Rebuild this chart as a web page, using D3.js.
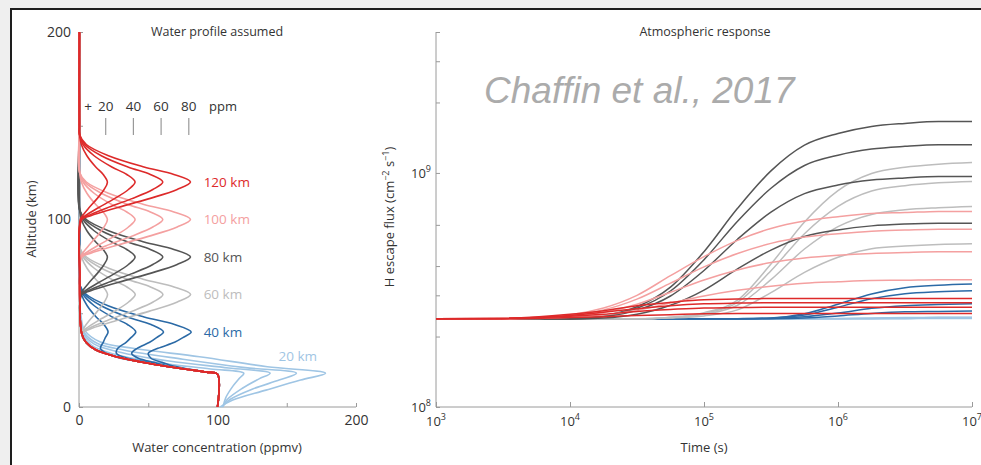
<!DOCTYPE html>
<html><head><meta charset="utf-8">
<script src="https://cdn.jsdelivr.net/npm/d3@7"></script>
<style>
html,body{margin:0;padding:0;background:#efefef;overflow:hidden;}
svg{display:block;}
text{font-family:"Open Sans","Noto Sans",sans-serif;}
</style></head><body>
<svg id="chart" width="981" height="465"></svg>
<script>
// ---------------- DATA ----------------
// Left panel: water profiles [ppmv, km]
const baseProfile = [[100,0],[100,17.5],[92,18.6],[75,20.4],[51,23.2],[27,26.8],[12,30.5],[5,34.5],[2,39],[1,45],[0.6,55],[0.5,70],[0.4,100],[0.3,150],[0.3,200]];

const peakLabels = ["20 km","40 km","60 km","80 km","100 km","120 km"];
const scaleBarPpm = [20,40,60,80];

// 20 km perturbations (point lists, ppmv, km)
const profiles20 = [
  [[104,0],[106,5],[111,11],[116,15.5],[119,18],[95,20.3],[55,23.8],[23,28.6],[9,33],[2.5,39],[1,45],[0.6,55]],
  [[103.5,0],[107,4],[118,10],[130,15],[138,18],[108,20.8],[65,24.5],[28,29.5],[11,33.5],[3,39.5],[1.2,46],[0.6,55]],
  [[103,0],[109,4],[125,9.5],[145,14.5],[157,18],[120,21],[75,25.5],[33,30.3],[13,34],[3.5,40],[1.3,47],[0.6,55]],
  [[102,0],[111,3.7],[135,9],[160,14.4],[178,18],[136,21.5],[87,26.8],[39,31.3],[15,34.8],[4,41],[1.5,48],[0.6,55]]
];
// 40 km perturbations
const alt40 = [20.4,21.8,23.8,26,28.6,31.3,34.5,37,40,44,48,54,60,65];
const ppm40 = [
  [75,62,47,30,20,15.5,17.5,19,21,18,12.4,5.9,1.8,0.6],
  [76,63,50,35,27,28,34,37.5,41,35,24,11,3,0.6],
  [77,65,54,43,38,42,51,56,61,52,35,16,4.2,0.6],
  [78,68,60,52,50,57,69,75,81,69,47,21,5.4,0.6]
];
// 60 km perturbations
const alt60 = [40,42,46,51,56,60,64,68,74,80,85];
const ppm60 = [
  [2.2,3.4,7.3,13.2,18.3,20.6,17.6,12.2,5.8,1.8,0.5],
  [2.6,5.4,13.7,25.6,35.8,40.6,34.6,23.8,11,3,0.5],
  [3,7.4,20.1,38,53.5,60.6,51.6,35.4,16.2,4.2,0.5],
  [3.4,9.4,26.5,50.4,71,80.6,68.6,47,21.4,5.4,0.5]
];
// 80 km perturbations
const alt80 = [60,62,66,71,76,80,84,88,94,100,105];
const ppm80 = [
  [0.9,2.5,6.9,12.9,18.1,20.5,17.5,12.1,5.7,1.7,0.5],
  [1.3,4.5,13.3,25.3,35.7,40.5,34.5,23.7,10.9,2.9,0.5],
  [1.7,6.5,19.7,37.7,53.3,60.5,51.5,35.3,16.1,4.1,0.5],
  [2.1,8.5,26.1,50.1,70.9,80.5,68.5,46.9,21.3,5.3,0.5]
];
// 100 km perturbations
const alt100 = [80,82,86,91,96,100,104,108,114,120,125];
const ppm100 = [
  [0.9,2.5,6.9,12.9,18.1,20.5,17.5,12.1,5.7,1.7,0.5],
  [1.3,4.5,13.3,25.3,35.7,40.5,34.5,23.7,10.9,2.9,0.5],
  [1.7,6.5,19.7,37.7,53.3,60.5,51.5,35.3,16.1,4.1,0.5],
  [2.1,8.5,26.1,50.1,70.9,80.5,68.5,46.9,21.3,5.3,0.5]
];
// 120 km perturbations
const alt120 = [100,102,106,111,116,120,124,128,134,140,145];
const ppm120 = [
  [0.9,2.5,6.9,12.9,18.1,20.5,17.5,12.1,5.7,1.7,0.5],
  [1.3,4.5,13.3,25.3,35.7,40.5,34.5,23.7,10.9,2.9,0.5],
  [1.7,6.5,19.7,37.7,53.3,60.5,51.5,35.3,16.1,4.1,0.5],
  [2.1,8.5,26.1,50.1,70.9,80.5,68.5,46.9,21.3,5.3,0.5]
];

// Right panel: H escape flux (units of 1e8 cm^-2 s^-1) vs time (s)
const times = [1e3,3.16e3,1e4,1.78e4,3.16e4,5.62e4,1e5,1.78e5,3.16e5,5.62e5,1e6,1.78e6,3.16e6,5.62e6,1e7];
const flux20 = [
  [2.38,2.38,2.38,2.38,2.38,2.38,2.38,2.38,2.38,2.38,2.38,2.38,2.385,2.39,2.39],
  [2.38,2.38,2.38,2.38,2.38,2.38,2.38,2.38,2.38,2.38,2.38,2.385,2.39,2.40,2.40],
  [2.38,2.38,2.38,2.38,2.38,2.38,2.38,2.38,2.38,2.38,2.385,2.39,2.40,2.41,2.41],
  [2.38,2.38,2.38,2.38,2.38,2.38,2.38,2.38,2.38,2.38,2.39,2.40,2.41,2.42,2.42]
];
const flux40 = [
  [2.38,2.38,2.38,2.38,2.38,2.38,2.38,2.381,2.384,2.40,2.45,2.51,2.55,2.56,2.57],
  [2.38,2.38,2.38,2.38,2.38,2.38,2.38,2.382,2.39,2.43,2.52,2.64,2.71,2.74,2.76],
  [2.38,2.38,2.38,2.38,2.38,2.38,2.38,2.384,2.395,2.47,2.67,2.90,3.05,3.11,3.14],
  [2.38,2.38,2.38,2.38,2.38,2.38,2.38,2.385,2.40,2.50,2.75,3.04,3.23,3.31,3.35]
];
const flux60 = [
  [2.38,2.38,2.38,2.38,2.38,2.40,2.45,2.60,3.08,3.76,4.36,4.74,4.87,4.95,4.98],
  [2.38,2.38,2.38,2.38,2.38,2.41,2.49,2.72,3.50,4.73,5.90,6.65,6.96,7.10,7.19],
  [2.38,2.38,2.38,2.38,2.38,2.41,2.51,2.80,3.82,5.50,7.20,8.37,8.82,9.07,9.20],
  [2.38,2.38,2.38,2.38,2.38,2.42,2.53,2.86,4.08,6.17,8.41,9.94,10.58,10.90,11.08]
];
const flux80 = [
  [2.38,2.38,2.38,2.40,2.49,2.72,3.16,3.89,4.68,5.35,5.71,5.94,6.05,6.10,6.10],
  [2.38,2.38,2.38,2.43,2.59,2.98,3.83,5.21,6.80,8.16,8.88,9.32,9.52,9.65,9.65],
  [2.38,2.38,2.38,2.44,2.64,3.13,4.26,6.22,8.60,10.76,11.90,12.64,12.99,13.20,13.20],
  [2.38,2.38,2.38,2.45,2.68,3.25,4.61,7.06,10.20,13.14,14.74,15.80,16.28,16.58,16.58]
];
const flux100 = [
  [2.38,2.38,2.42,2.47,2.59,2.78,2.98,3.15,3.28,3.38,3.43,3.47,3.48,3.50,3.50],
  [2.38,2.38,2.44,2.54,2.75,3.09,3.49,3.85,4.14,4.33,4.45,4.53,4.57,4.60,4.60],
  [2.38,2.38,2.47,2.60,2.89,3.38,3.97,4.53,5.00,5.32,5.50,5.64,5.70,5.75,5.75],
  [2.38,2.38,2.48,2.65,3.00,3.64,4.39,5.15,5.79,6.23,6.50,6.71,6.77,6.85,6.85]
];
const flux120 = [
  [2.38,2.38,2.41,2.43,2.46,2.48,2.50,2.51,2.51,2.51,2.51,2.51,2.51,2.51,2.51],
  [2.38,2.39,2.44,2.49,2.56,2.61,2.65,2.66,2.67,2.67,2.67,2.67,2.67,2.67,2.67],
  [2.38,2.39,2.46,2.54,2.63,2.71,2.76,2.78,2.79,2.79,2.79,2.79,2.79,2.79,2.79],
  [2.38,2.39,2.49,2.58,2.71,2.80,2.87,2.89,2.91,2.91,2.91,2.91,2.91,2.91,2.91]
];
const timeTicks = [1e3,1e4,1e5,1e6,1e7];
const fluxTicks = [1e8,2e8,3e8,4e8,6e8,1e9,2e9,3e9,4e9];

const groupColors = ["#9fc5e4","#2b6aa6","#bdbdbd","#555555","#f4a0a0","#dd2a2a"];

// ---------------- DRAW ----------------
const svg = d3.select("#chart");
svg.append("rect").attr("x",11).attr("y",9).attr("width",1000).attr("height",500)
  .attr("fill","#fff").attr("stroke","#1e1e1e").attr("stroke-width",2);

const axisCol = "#9a9a9a", txtCol = "#333";

// ===== Left panel =====
const xC = d3.scaleLinear().domain([0,200]).range([79,356]);
const yA = d3.scaleLinear().domain([0,200]).range([407,32]);

const gL = svg.append("g");
const axL = gL.append("g").attr("transform","translate(79,0)")
  .call(d3.axisLeft(yA).tickValues([0,50,100,150,200]).tickSize(-4).tickPadding(8)
    .tickFormat(d => (d % 100 === 0 ? d : "")));
const axB = gL.append("g").attr("transform","translate(0,407)")
  .call(d3.axisBottom(xC).tickValues([0,50,100,150,200]).tickSize(-4).tickPadding(8)
    .tickFormat(d => (d % 100 === 0 ? d : "")));
[axL, axB].forEach(a => {
  a.select(".domain").remove();
  a.selectAll(".tick line").attr("stroke",axisCol);
  a.selectAll("text").attr("fill",txtCol).style("font-size","14px");
});
gL.append("line").attr("x1",xC(0)).attr("x2",xC(0)).attr("y1",yA(0)).attr("y2",yA(200)).attr("stroke",axisCol);
gL.append("line").attr("x1",xC(0)).attr("x2",xC(200)).attr("y1",yA(0)).attr("y2",yA(0)).attr("stroke",axisCol);

const lineL = d3.line().x(d => xC(d[0])).y(d => yA(d[1])).curve(d3.curveCatmullRom.alpha(0.5));
function fullProfile(bump) {
  const lo = bump[0][1], hi = bump[bump.length-1][1];
  return baseProfile.filter(p => p[1] < lo).concat(bump, baseProfile.filter(p => p[1] > hi));
}
const zipAlt = (alts, vals) => vals.map((v,i) => [v, alts[i]]);
const leftGroups = [
  profiles20,
  ppm40.map(v => zipAlt(alt40, v)),
  ppm60.map(v => zipAlt(alt60, v)),
  ppm80.map(v => zipAlt(alt80, v)),
  ppm100.map(v => zipAlt(alt100, v)),
  ppm120.map(v => zipAlt(alt120, v))
];
leftGroups.forEach((grp, gi) => {
  grp.forEach(b => {
    gL.append("path").attr("d", lineL(fullProfile(b)))
      .attr("fill","none").attr("stroke",groupColors[gi]).attr("stroke-width",1.6)
      .attr("stroke-linejoin","round");
  });
});

// peak labels
const labelPos = [[144,27],[90,40],[90,60],[90,80],[90,100],[90,120]];
peakLabels.forEach((t,i) => {
  gL.append("text").attr("x", xC(labelPos[i][0])).attr("y", yA(labelPos[i][1])).attr("dy","0.35em")
    .attr("fill", groupColors[i]).style("font-size","13.5px").text(t);
});

// scale bar
scaleBarPpm.forEach(p => {
  gL.append("line").attr("x1",xC(p)-1).attr("x2",xC(p)-1).attr("y1",118).attr("y2",135)
    .attr("stroke","#999").attr("stroke-width",1.2);
  gL.append("text").attr("x",xC(p)-1).attr("y",106).attr("dy","0.35em").attr("text-anchor","middle")
    .attr("fill",txtCol).style("font-size","13.5px").text(p);
});
gL.append("text").attr("x",88).attr("y",106).attr("dy","0.35em").attr("text-anchor","middle")
  .attr("fill",txtCol).style("font-size","13.5px").text("+");
gL.append("text").attr("x",209).attr("y",106).attr("dy","0.35em")
  .attr("fill",txtCol).style("font-size","13px").text("ppm");

gL.append("text").attr("x",217).attr("y",32).attr("dy","0.35em").attr("text-anchor","middle")
  .attr("fill",txtCol).style("font-size","12.5px").text("Water profile assumed");
gL.append("text").attr("x",217).attr("y",447).attr("dy","0.35em").attr("text-anchor","middle")
  .attr("fill",txtCol).style("font-size","13px").text("Water concentration (ppmv)");
gL.append("text").attr("transform","translate(31,219) rotate(-90)").attr("dy","0.35em").attr("text-anchor","middle")
  .attr("fill",txtCol).style("font-size","13px").text("Altitude (km)");

// ===== Right panel =====
const xT = d3.scaleLog().domain([1e3,1e7]).range([436,972]);
const yF = d3.scaleLog().domain([1e8,4e9]).range([407,32]);
const gR = svg.append("g");

const axRL = gR.append("g").attr("transform","translate(436,0)")
  .call(d3.axisLeft(yF).tickValues(fluxTicks).tickSize(-4).tickFormat(""));
const axRB = gR.append("g").attr("transform","translate(0,407)")
  .call(d3.axisBottom(xT).tickValues(timeTicks).tickSize(-5).tickFormat(""));
[axRL, axRB].forEach(a => { a.select(".domain").remove(); a.selectAll(".tick line").attr("stroke",axisCol); });
gR.append("line").attr("x1",436).attr("x2",436).attr("y1",yF(1e8)).attr("y2",yF(4e9)).attr("stroke",axisCol);
gR.append("line").attr("x1",xT(1e3)).attr("x2",xT(1e7)).attr("y1",407).attr("y2",407).attr("stroke",axisCol);

function powLabel(g, x, y, exp, anchor) {
  const t = g.append("text").attr("x",x).attr("y",y).attr("text-anchor",anchor)
    .attr("fill",txtCol).style("font-size","13px");
  t.append("tspan").text("10");
  t.append("tspan").attr("dy","-6").style("font-size","9px").text(exp);
  return t;
}
timeTicks.forEach(t => powLabel(gR, xT(t), 426, Math.round(Math.log10(t)), "middle"));
[1e8,1e9].forEach(f => powLabel(gR, 431, yF(f)+5, Math.round(Math.log10(f)), "end"));

const lineR = d3.line().x((d,i) => xT(times[i])).y(d => yF(d*1e8)).curve(d3.curveMonotoneX);
[flux20, flux40, flux60, flux80, flux100, flux120].forEach((grp, gi) => {
  grp.forEach(s => {
    gR.append("path").attr("d", lineR(s)).attr("fill","none")
      .attr("stroke", groupColors[gi]).attr("stroke-width",1.5);
  });
});

gR.append("text").attr("x",705).attr("y",32).attr("dy","0.35em").attr("text-anchor","middle")
  .attr("fill",txtCol).style("font-size","12.5px").text("Atmospheric response");
gR.append("text").attr("x",704).attr("y",447).attr("dy","0.35em").attr("text-anchor","middle")
  .attr("fill",txtCol).style("font-size","13px").text("Time (s)");
const yl = gR.append("text").attr("transform","translate(389,217) rotate(-90)").attr("dy","0.35em")
  .attr("text-anchor","middle").attr("fill",txtCol).style("font-size","13px");
yl.append("tspan").text("H escape flux (cm");
yl.append("tspan").attr("dy","-5").style("font-size","9px").text("\u22122");
yl.append("tspan").attr("dy","5").text(" s");
yl.append("tspan").attr("dy","-5").style("font-size","9px").text("\u22121");
yl.append("tspan").attr("dy","5").text(")");

svg.append("text").attr("x",484).attr("y",103)
  .style("font-family","'Liberation Sans',Arial,sans-serif").style("font-style","italic")
  .style("font-size","37px").attr("fill","#ababab").text("Chaffin et al., 2017");
</script>
</body></html>
